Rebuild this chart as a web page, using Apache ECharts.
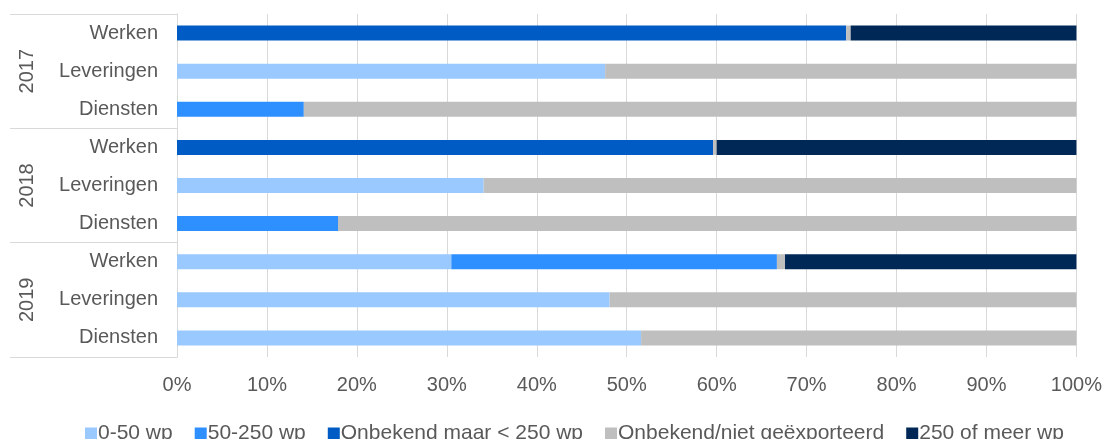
<!DOCTYPE html>
<html>
<head>
<meta charset="utf-8">
<script src="https://cdn.jsdelivr.net/npm/echarts@6/dist/echarts.min.js"></script>
<style>
  html, body { margin: 0; padding: 0; background: #fff; }
  #chart { width: 1105px; height: 439px; }
</style>
</head>
<body>
<div id="chart"></div>
<script>
// categories top to bottom
var years = ['2017', '2018', '2019'];
var types = ['Werken', 'Leveringen', 'Diensten'];
var seriesNames = ['0-50 wp', '50-250 wp', 'Onbekend maar < 250 wp', 'Onbekend/niet geëxporteerd', '250 of meer wp'];
var seriesColors = ['#99c9ff', '#2e8fff', '#005bc4', '#bfbfbf', '#002857'];

// percentages per category, same order as the category list
var small = [0, 47.6, 0, 0, 34.1, 0, 30.5, 48.1, 51.6];
var medium = [0, 0, 14.1, 0, 0, 17.9, 36.2, 0, 0];
var unknownSmall = [74.4, 0, 0, 59.6, 0, 0, 0, 0, 0];
var unknown = [0.5, 52.4, 85.9, 0.4, 65.9, 82.1, 0.9, 51.9, 48.4];
var large = [25.1, 0, 0, 40.0, 0, 0, 32.4, 0, 0];

var categories = [];
years.forEach(function (y) {
    types.forEach(function (t) {
        categories.push(y + '|' + t);
    });
});

var values = [small, medium, unknownSmall, unknown, large];
var series = [];
for (var i = 0; i < seriesNames.length; i++) {
    series.push({
        name: seriesNames[i],
        type: 'bar',
        stack: 'total',
        barWidth: 15,
        yAxisIndex: 0,
        itemStyle: { color: seriesColors[i] },
        data: values[i]
    });
}

var textColor = '#595959';
var lineColor = '#d9d9d9';
var fs = 20;

var chart = echarts.init(document.getElementById('chart'));
chart.setOption({
    animation: false,
    textStyle: { fontFamily: 'Liberation Sans, Arial, sans-serif' },
    grid: { left: 177, right: 28, top: 14, bottom: 82, containLabel: false },
    legend: {
        left: 80,
        top: 418,
        icon: 'rect',
        itemWidth: 12,
        itemHeight: 12,
        itemGap: 22,
        textStyle: { color: textColor, fontSize: 21, padding: [0, 0, 0, -4] },
        data: seriesNames
    },
    xAxis: {
        type: 'value',
        min: 0,
        max: 100,
        interval: 10,
        axisLine: { show: false },
        axisTick: { show: false },
        splitLine: { lineStyle: { color: lineColor, width: 1 } },
        axisLabel: { formatter: '{value}%', color: textColor, fontSize: fs, margin: 18 }
    },
    yAxis: [{
        type: 'category',
        inverse: true,
        data: categories,
        axisLine: { lineStyle: { color: lineColor } },
        axisTick: { show: false },
        axisLabel: {
            color: textColor,
            fontSize: fs,
            margin: 19,
            formatter: function (v) { return v.split('|')[1]; }
        }
    }, {
        type: 'category',
        inverse: true,
        position: 'left',
        data: years,
        axisLine: { lineStyle: { color: lineColor } },
        axisTick: { show: true, length: 167, interval: 0, lineStyle: { color: lineColor } },
        axisLabel: { color: textColor, fontSize: fs, rotate: 90, margin: 140 }
    }],
    series: series
});
</script>
</body>
</html>
